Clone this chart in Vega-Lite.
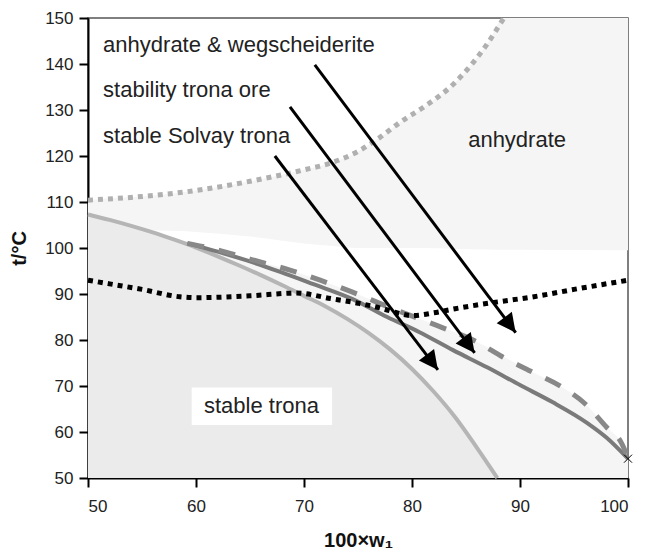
{
  "$schema": "https://vega.github.io/schema/vega-lite/v6.json",
  "width": 540,
  "height": 460,
  "autosize": {"type": "none"},
  "padding": {"left": 88, "top": 18, "right": 17, "bottom": 72},
  "background": "white",
  "config": {
    "view": {"stroke": "#555555", "strokeWidth": 1.5},
    "axis": {
      "grid": false,
      "domainColor": "black",
      "domainWidth": 2,
      "tickColor": "black",
      "tickWidth": 2,
      "tickSize": 9,
      "labelFont": "Liberation Sans",
      "labelFontSize": 17,
      "labelColor": "#222222",
      "titleFont": "Liberation Sans",
      "titleFontWeight": "bold",
      "titleColor": "#111111"
    }
  },
  "datasets": {
    "anhydrate": [
      {"x": 50, "y": 110.4, "y2": 107},
      {"x": 52, "y": 110.8, "y2": 104.5},
      {"x": 55, "y": 111.2, "y2": 104},
      {"x": 60, "y": 112.5, "y2": 103.5},
      {"x": 65, "y": 114.5, "y2": 102.5},
      {"x": 70, "y": 117, "y2": 101},
      {"x": 72.5, "y": 118.5, "y2": 100.5},
      {"x": 75, "y": 121, "y2": 100},
      {"x": 77, "y": 124, "y2": 100},
      {"x": 79, "y": 127.5, "y2": 100},
      {"x": 81, "y": 130.5, "y2": 100},
      {"x": 84, "y": 136, "y2": 99.8},
      {"x": 87, "y": 144.5, "y2": 99.7},
      {"x": 88.5, "y": 150, "y2": 99.6},
      {"x": 100, "y": 150, "y2": 99.5}
    ],
    "between": [
      {"x": 59.2, "y": 101, "y2": 100.8},
      {"x": 62, "y": 99.6, "y2": 98.2},
      {"x": 65, "y": 97.6, "y2": 95.15},
      {"x": 68.7, "y": 95.2, "y2": 91.1},
      {"x": 71.5, "y": 93, "y2": 87.9},
      {"x": 74.5, "y": 90.4, "y2": 83.8},
      {"x": 78, "y": 87, "y2": 77.9},
      {"x": 82.8, "y": 82.7, "y2": 66.6},
      {"x": 86, "y": 79.6, "y2": 56.6},
      {"x": 88, "y": 77, "y2": 50},
      {"x": 91, "y": 73.2, "y2": 50},
      {"x": 94, "y": 69.6, "y2": 50},
      {"x": 96, "y": 66.2, "y2": 50},
      {"x": 98, "y": 61.1, "y2": 50},
      {"x": 99.4, "y": 57.6, "y2": 50},
      {"x": 100, "y": 54.4, "y2": 50}
    ],
    "trona": [
      {"x": 50, "y": 107.3},
      {"x": 52, "y": 106.1},
      {"x": 54, "y": 104.8},
      {"x": 56, "y": 103.4},
      {"x": 58, "y": 101.8},
      {"x": 60, "y": 100.1},
      {"x": 62, "y": 98.2},
      {"x": 64, "y": 96.2},
      {"x": 66, "y": 94.1},
      {"x": 68, "y": 91.9},
      {"x": 70, "y": 89.6},
      {"x": 72, "y": 87.3},
      {"x": 74, "y": 84.6},
      {"x": 76, "y": 81.5},
      {"x": 78, "y": 77.9},
      {"x": 80, "y": 73.7},
      {"x": 82, "y": 68.8},
      {"x": 84, "y": 63.2},
      {"x": 86, "y": 56.6},
      {"x": 87.9, "y": 50}
    ],
    "ore": [
      {"x": 59.2, "y": 101},
      {"x": 62, "y": 99.2},
      {"x": 64.7, "y": 97.3},
      {"x": 67.8, "y": 94.8},
      {"x": 70.8, "y": 92.2},
      {"x": 74.5, "y": 88.9},
      {"x": 77.7, "y": 85},
      {"x": 80.7, "y": 81.7},
      {"x": 83.8, "y": 77.8},
      {"x": 87, "y": 74},
      {"x": 90, "y": 70.2},
      {"x": 93, "y": 66.5},
      {"x": 96.2, "y": 62},
      {"x": 98, "y": 58.8},
      {"x": 100, "y": 54.2}
    ],
    "wegs": [
      {"x": 59.2, "y": 101},
      {"x": 62, "y": 99.6},
      {"x": 65, "y": 97.6},
      {"x": 68.7, "y": 95.2},
      {"x": 71.5, "y": 93},
      {"x": 74.5, "y": 90.4},
      {"x": 78, "y": 87},
      {"x": 82.8, "y": 82.7},
      {"x": 86, "y": 79.6},
      {"x": 88.4, "y": 76.3},
      {"x": 91, "y": 73.2},
      {"x": 94, "y": 69.6},
      {"x": 96, "y": 66.2},
      {"x": 98, "y": 61.1},
      {"x": 99.4, "y": 57.6},
      {"x": 100, "y": 54.4}
    ],
    "solvay": [
      {"x": 50, "y": 93},
      {"x": 52, "y": 92.2},
      {"x": 55, "y": 91},
      {"x": 58.5, "y": 89.4},
      {"x": 60, "y": 89.2},
      {"x": 65, "y": 89.6},
      {"x": 69.3, "y": 90.2},
      {"x": 72.5, "y": 89},
      {"x": 75, "y": 88},
      {"x": 77, "y": 87},
      {"x": 78.5, "y": 86},
      {"x": 80, "y": 85.3},
      {"x": 82, "y": 85.9},
      {"x": 84, "y": 86.8},
      {"x": 86, "y": 87.6},
      {"x": 88, "y": 88.3},
      {"x": 91, "y": 89.3},
      {"x": 95, "y": 91},
      {"x": 100, "y": 93}
    ],
    "anhbound": [
      {"x": 50, "y": 110.4},
      {"x": 55, "y": 111.2},
      {"x": 60, "y": 112.5},
      {"x": 65, "y": 114.5},
      {"x": 70, "y": 117},
      {"x": 72.5, "y": 118.5},
      {"x": 75, "y": 121},
      {"x": 77, "y": 124},
      {"x": 79, "y": 127.5},
      {"x": 81, "y": 130.5},
      {"x": 84, "y": 136},
      {"x": 87, "y": 144.5},
      {"x": 88.5, "y": 150}
    ],
    "arrows": [
      {"x": 89.6, "y": 81.6, "xs": 71.0, "ys": 139.8},
      {"x": 85.8, "y": 77.2, "xs": 68.7, "ys": 130.7},
      {"x": 82.4, "y": 73.5, "xs": 67.3, "ys": 120.0}
    ],
    "labels": [
      {"x": 51.4, "y": 142.6, "label": "anhydrate & wegscheiderite"},
      {"x": 51.4, "y": 132.8, "label": "stability trona ore"},
      {"x": 51.4, "y": 122.8, "label": "stable Solvay trona"},
      {"x": 85.2, "y": 122.0, "label": "anhydrate"},
      {"x": 60.74, "y": 64.1, "label": "stable trona"}
    ],
    "box": [
      {"x": 59.6, "x2": 72.6, "y": 61.5, "y2": 69.7}
    ],
    "endpoint": [
      {"x": 100, "y": 54.2}
    ]
  },
  "encoding": {
    "x": {
      "field": "x",
      "type": "quantitative",
      "scale": {"domain": [50, 100], "nice": false, "zero": false},
      "axis": {"values": [50, 60, 70, 80, 90, 100], "title": "100×w₁", "titleFontSize": 20, "labelPadding": 11, "titlePadding": 16}
    },
    "y": {
      "field": "y",
      "type": "quantitative",
      "scale": {"domain": [50, 150], "nice": false, "zero": false},
      "axis": {"values": [50, 60, 70, 80, 90, 100, 110, 120, 130, 140, 150], "title": "t/°C", "titleFontSize": 20, "labelPadding": 6, "titlePadding": 15}
    }
  },
  "layer": [
    {
      "data": {"name": "anhydrate"},
      "mark": {"type": "area", "fill": "#f5f5f5", "stroke": null, "interpolate": "monotone"},
      "encoding": {"y2": {"field": "y2"}}
    },
    {
      "data": {"name": "between"},
      "mark": {"type": "area", "fill": "#f5f5f5", "stroke": null, "interpolate": "monotone"},
      "encoding": {"y2": {"field": "y2"}}
    },
    {
      "data": {"name": "trona"},
      "mark": {"type": "area", "fill": "#ebebeb", "stroke": null, "interpolate": "monotone"},
      "encoding": {"y2": {"datum": 50}}
    },
    {
      "data": {"name": "box"},
      "mark": {"type": "rect", "fill": "white", "stroke": null},
      "encoding": {"x2": {"field": "x2"}, "y2": {"field": "y2"}}
    },
    {
      "data": {"name": "trona"},
      "mark": {"type": "line", "stroke": "#b5b5b5", "strokeWidth": 4, "interpolate": "monotone"},
      "encoding": {}
    },
    {
      "data": {"name": "ore"},
      "mark": {"type": "line", "stroke": "#7a7a7a", "strokeWidth": 4, "interpolate": "monotone"},
      "encoding": {}
    },
    {
      "data": {"name": "wegs"},
      "mark": {"type": "line", "stroke": "#888888", "strokeWidth": 5, "strokeDash": [17, 15], "interpolate": "monotone"},
      "encoding": {}
    },
    {
      "data": {"name": "anhbound"},
      "mark": {"type": "line", "stroke": "#b0b0b0", "strokeWidth": 5, "strokeDash": [5, 5], "interpolate": "monotone"},
      "encoding": {}
    },
    {
      "data": {"name": "solvay"},
      "mark": {"type": "line", "stroke": "black", "strokeWidth": 5, "strokeDash": [5, 5], "interpolate": "monotone"},
      "encoding": {}
    },
    {
      "data": {"name": "arrows"},
      "mark": {"type": "rule", "stroke": "black", "strokeWidth": 3},
      "encoding": {"x2": {"field": "xs"}, "y2": {"field": "ys"}}
    },
    {
      "data": {"name": "arrows"},
      "mark": {"type": "point", "shape": "M0,0L-0.5,1L0.5,1Z", "filled": true, "fill": "black", "stroke": null, "opacity": 1, "size": 1444, "angle": 143},
      "encoding": {}
    },
    {
      "data": {"name": "endpoint"},
      "mark": {"type": "point", "shape": "M-1,-1L1,1M-1,1L1,-1", "filled": false, "stroke": "black", "strokeWidth": 1, "opacity": 1, "size": 64},
      "encoding": {}
    },
    {
      "data": {"name": "labels"},
      "mark": {"type": "text", "align": "left", "baseline": "alphabetic", "font": "Liberation Sans", "fontSize": 22, "fill": "#222222"},
      "encoding": {"text": {"field": "label"}}
    }
  ]
}
